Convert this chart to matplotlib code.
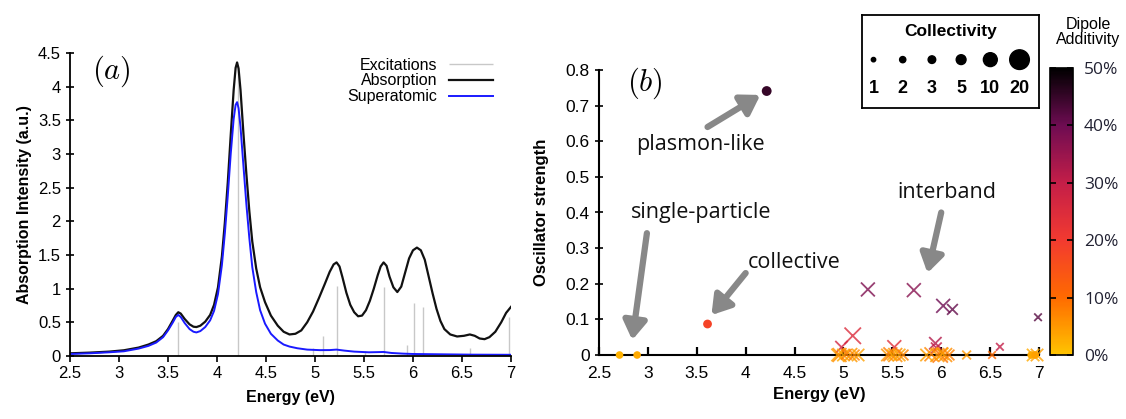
import matplotlib
matplotlib.use("Agg")
import matplotlib.pyplot as plt
import numpy as np
from matplotlib.colors import LinearSegmentedColormap, Normalize
from matplotlib.ticker import FuncFormatter

# ---- panel (a): spectra ----
abs_e = [2.5, 2.7, 2.9, 3.05, 3.2, 3.3, 3.38, 3.45, 3.50, 3.55, 3.58, 3.605, 3.63, 3.67,
         3.72, 3.76, 3.79, 3.83, 3.88, 3.93, 3.97, 4.01, 4.05, 4.08, 4.11, 4.14, 4.17,
         4.19, 4.205, 4.22, 4.24, 4.27, 4.30, 4.33, 4.36, 4.40, 4.44, 4.49, 4.55, 4.62,
         4.68, 4.74, 4.80, 4.86, 4.92, 4.98, 5.04, 5.10, 5.15, 5.19, 5.22, 5.25, 5.28,
         5.32, 5.36, 5.40, 5.44, 5.48, 5.52, 5.56, 5.60, 5.64, 5.67, 5.70, 5.73, 5.76,
         5.80, 5.84, 5.88, 5.92, 5.96, 6.00, 6.04, 6.08, 6.12, 6.16, 6.20, 6.24, 6.28,
         6.32, 6.38, 6.45, 6.52, 6.58, 6.63, 6.68, 6.73, 6.78, 6.84, 6.90, 6.95, 7.00]
abs_y = [0.04, 0.05, 0.065, 0.085, 0.125, 0.17, 0.22, 0.30, 0.40, 0.53, 0.61, 0.65, 0.63, 0.55,
         0.47, 0.435, 0.43, 0.45, 0.51, 0.61, 0.76, 1.02, 1.48, 1.98, 2.58, 3.28, 3.95,
         4.28, 4.36, 4.27, 3.95, 3.30, 2.70, 2.15, 1.70, 1.30, 1.02, 0.80, 0.60, 0.45,
         0.36, 0.32, 0.33, 0.38, 0.50, 0.66, 0.86, 1.07, 1.25, 1.36, 1.39, 1.33, 1.17,
         0.94, 0.76, 0.65, 0.59, 0.60, 0.68, 0.82, 1.00, 1.20, 1.33, 1.39, 1.34, 1.18,
         1.02, 0.95, 1.03, 1.24, 1.45, 1.57, 1.61, 1.57, 1.43, 1.18, 0.93, 0.70, 0.52,
         0.40, 0.32, 0.29, 0.30, 0.32, 0.30, 0.26, 0.25, 0.28, 0.36, 0.50, 0.64, 0.73]

sup_e = [2.5, 2.7, 2.9, 3.05, 3.2, 3.3, 3.38, 3.45, 3.50, 3.55, 3.58, 3.605, 3.63, 3.67,
         3.72, 3.76, 3.79, 3.83, 3.88, 3.93, 3.97, 4.01, 4.05, 4.08, 4.11, 4.14, 4.17,
         4.19, 4.205, 4.22, 4.24, 4.27, 4.30, 4.33, 4.36, 4.40, 4.44, 4.49, 4.55, 4.62,
         4.68, 4.74, 4.82, 4.92, 5.05, 5.15, 5.22, 5.30, 5.40, 5.55, 5.65, 5.70, 5.78,
         5.90, 6.0, 6.3, 6.6, 7.0]
sup_y = [0.03, 0.04, 0.055, 0.07, 0.11, 0.15, 0.20, 0.28, 0.38, 0.50, 0.58, 0.61, 0.58, 0.49,
         0.40, 0.36, 0.35, 0.37, 0.43, 0.53, 0.67, 0.92, 1.35, 1.82, 2.38, 3.00, 3.52,
         3.73, 3.77, 3.68, 3.40, 2.82, 2.25, 1.75, 1.32, 0.95, 0.68, 0.48, 0.33, 0.23,
         0.17, 0.14, 0.115, 0.095, 0.087, 0.088, 0.095, 0.08, 0.065, 0.055, 0.058, 0.06, 0.045,
         0.035, 0.03, 0.025, 0.02, 0.018]

exc_e = [3.60, 4.21, 4.98, 5.085, 5.22, 5.51, 5.70, 5.935, 6.01, 6.105, 6.585, 6.98]
exc_h = [0.50, 4.30, 0.12, 0.30, 1.04, 0.08, 1.02, 0.17, 0.78, 0.73, 0.12, 0.58]

# ---- panel (b): excitations, oscillator strength, dipole additivity, collectivity ----
dot_e = [2.71, 2.89, 3.61, 4.215, 6.92, 6.96]
dot_f = [0.0, 0.0, 0.087, 0.741, 0.0, 0.0]
dot_add = [0.02, 0.03, 0.18, 0.45, 0.03, 0.04]
dot_coll = [3, 3, 4, 5, 3, 3]

cross_e = [5.25, 5.72, 6.02, 6.115, 6.99, 5.095, 4.98, 5.52, 5.94, 5.95, 6.60,
           4.94, 4.96, 5.00, 5.03, 5.07, 5.11, 5.15,
           5.45, 5.48, 5.50, 5.53, 5.57, 5.61,
           5.85, 5.90, 5.96, 5.99, 6.01, 6.04, 6.08,
           6.26, 6.52, 6.94, 6.98]
cross_f = [0.184, 0.182, 0.138, 0.128, 0.106, 0.054, 0.022, 0.022, 0.033, 0.020, 0.023,
           0.0, 0.0, 0.0, 0.002, 0.0, 0.0, 0.0,
           0.0, 0.002, 0.0, 0.0, 0.0, 0.0,
           0.0, 0.002, 0.0, 0.0, 0.003, 0.0, 0.0,
           0.0, 0.0, 0.0, 0.0]
cross_add = [0.38, 0.37, 0.40, 0.41, 0.42, 0.25, 0.27, 0.24, 0.32, 0.30, 0.30,
             0.04, 0.06, 0.03, 0.08, 0.05, 0.07, 0.04,
             0.05, 0.08, 0.03, 0.06, 0.04, 0.07,
             0.04, 0.07, 0.05, 0.09, 0.03, 0.06, 0.08,
             0.05, 0.10, 0.03, 0.04]
cross_coll = [5, 5, 5, 3, 1.5, 7, 4, 5, 4, 3, 1.5,
              4, 5, 4, 3, 5, 3, 4,
              4, 5, 3, 5, 4, 3,
              4, 5, 5, 6, 4, 5, 3,
              2, 1.5, 4, 4]

coll_levels = [1, 2, 3, 5, 10, 20]
add_ticks = [0.0, 0.1, 0.2, 0.3, 0.4, 0.5]

cmap = LinearSegmentedColormap.from_list(
    "additivity",
    [(0.0, "#ffc400"), (0.2, "#ff6a00"), (0.4, "#f23a30"),
     (0.6, "#c41e48"), (0.8, "#6e0c52"), (1.0, "#000000")])
norm = Normalize(0, 0.5)

W, H = 1126, 419
fig = plt.figure(figsize=(W / 100, H / 100), dpi=100)
plt.rcParams["font.family"] = ["Liberation Sans", "DejaVu Sans"]
plt.rcParams["mathtext.fontset"] = "cm"


def fig_rect(x0, y0, x1, y1):
    return [x0 / W, 1 - y1 / H, (x1 - x0) / W, (y1 - y0) / H]


def num_fmt(v, _):
    return f"{v:g}"


# ---- panel (a) ----
ax1 = fig.add_axes(fig_rect(70, 53, 511, 356))
ax1.vlines(exc_e, 0, exc_h, color="#c8c8c8", lw=1.0, label="Excitations")
ax1.plot(abs_e, abs_y, color="#111111", lw=1.6, label="Absorption")
ax1.plot(sup_e, sup_y, color="#1a1aff", lw=1.4, label="Superatomic")
ax1.set_xlim(2.5, 7)
ax1.set_ylim(0, 4.5)
ax1.set_xticks(np.arange(2.5, 7.01, 0.5))
ax1.set_yticks(np.arange(0, 4.51, 0.5))
ax1.xaxis.set_major_formatter(FuncFormatter(num_fmt))
ax1.yaxis.set_major_formatter(FuncFormatter(num_fmt))
ax1.tick_params(axis="x", direction="out", length=4, width=1.2, labelsize=12)
ax1.tick_params(axis="y", direction="inout", length=6, width=1.2, labelsize=12)
for side in ("top", "right"):
    ax1.spines[side].set_visible(False)
for side in ("left", "bottom"):
    ax1.spines[side].set_linewidth(1.3)
ax1.set_xlabel("Energy (eV)", fontsize=11.5, fontweight="bold", labelpad=6)
ax1.set_ylabel("Absorption Intensity (a.u.)", fontsize=11.5, fontweight="bold", labelpad=4)
ax1.legend(loc="upper right", bbox_to_anchor=(0.96, 0.985), frameon=False,
           markerfirst=False, handlelength=2.8, handletextpad=0.7,
           labelspacing=0.05, borderpad=0, borderaxespad=0, fontsize=11.5)
ax1.text(0.095, 0.94, r"$(a)$", transform=ax1.transAxes, fontsize=22,
         ha="center", va="center")

# ---- panel (b) ----
ax2 = fig.add_axes(fig_rect(599, 70, 1039, 355))
ax2.scatter(cross_e, cross_f, s=np.array(cross_coll) * 20, c=cross_add, cmap=cmap,
            norm=norm, marker="x", linewidths=1.3, alpha=0.8, clip_on=False, zorder=3)
ax2.scatter(dot_e, dot_f, s=np.array(dot_coll) * 10, c=dot_add, cmap=cmap, norm=norm,
            marker="o", linewidths=0, clip_on=False, zorder=4)
ax2.set_xlim(2.5, 7)
ax2.set_ylim(0, 0.8)
ax2.set_xticks(np.arange(2.5, 7.01, 0.5))
ax2.set_yticks(np.arange(0, 0.81, 0.1))
ax2.xaxis.set_major_formatter(FuncFormatter(num_fmt))
ax2.yaxis.set_major_formatter(FuncFormatter(num_fmt))
ax2.tick_params(axis="x", direction="in", length=6, width=1.6, labelsize=12.5, pad=8)
ax2.tick_params(axis="y", direction="inout", length=6, width=1.2, labelsize=12.5)
for side in ("top", "right"):
    ax2.spines[side].set_visible(False)
for side in ("left", "bottom"):
    ax2.spines[side].set_linewidth(1.5)
ax2.set_xlabel("Energy (eV)", fontsize=12, fontweight="bold", labelpad=4)
ax2.set_ylabel("Oscillator strength", fontsize=12, fontweight="bold", labelpad=12)
ax2.text(0.105, 0.955, r"$(b)$", transform=ax2.transAxes, fontsize=22,
         ha="center", va="center")

arrow_kw = dict(arrowstyle="-|>,head_length=1.1,head_width=0.7", color="#888888",
                lw=4.5, shrinkA=0, shrinkB=0)
notes = [
    ("plasmon-like", (3.54, 0.59), (3.61, 0.64), (4.15, 0.73)),
    ("single-particle", (3.54, 0.40), (2.99, 0.342), (2.84, 0.042)),
    ("collective", (4.50, 0.26), (4.00, 0.23), (3.65, 0.112)),
    ("interband", (6.06, 0.455), (6.00, 0.40), (5.86, 0.23)),
]
for label, txt_xy, tail, tip in notes:
    ax2.text(*txt_xy, label, fontsize=15.5, family=["Open Sans", "DejaVu Sans"],
             ha="center", va="center", color="#111111")
    ax2.annotate("", xy=tip, xytext=tail, arrowprops=arrow_kw)

# collectivity legend box
axl = fig.add_axes(fig_rect(862, 15, 1039, 108))
axl.set_xlim(0, 1)
axl.set_ylim(1, 0)
axl.set_xticks([])
axl.set_yticks([])
for sp in axl.spines.values():
    sp.set_linewidth(1.3)
leg_x = np.linspace(0.065, 0.89, len(coll_levels))
axl.scatter(leg_x, [0.48] * len(coll_levels), s=np.array(coll_levels) * 10, c="black")
for x, c in zip(leg_x, coll_levels):
    axl.text(x, 0.79, str(c), ha="center", va="center", fontsize=13, fontweight="bold")
axl.text(0.5, 0.18, "Collectivity", ha="center", va="center", fontsize=12.5,
         fontweight="bold")

# colorbar
cax = fig.add_axes(fig_rect(1050, 68, 1073, 355))
sm = plt.cm.ScalarMappable(norm=norm, cmap=cmap)
cb = fig.colorbar(sm, cax=cax, ticks=add_ticks)
cb.outline.set_linewidth(1.2)
cb.ax.set_yticklabels([f"{int(round(t * 100))}%" for t in add_ticks])
cax.tick_params(direction="in", left=True, right=True, length=4, width=1.2,
                labelsize=12.5, pad=8, labelcolor="#222233")
for lab in cax.get_yticklabels():
    lab.set_family(["Open Sans", "DejaVu Sans"])
fig.text(1088 / W, 1 - 32 / H, "Dipole\nAdditivity", ha="center", va="center",
         fontsize=11.5, linespacing=1.0)

fig.savefig("out.png", dpi=100)
